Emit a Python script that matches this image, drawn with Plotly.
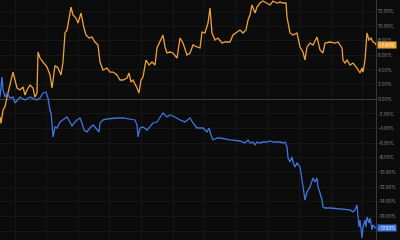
import plotly.graph_objects as go

# Orange series (cumulative return, %)
orange_t = [0, 1, 3, 5, 7, 10, 13, 15, 17, 20, 23, 25, 27, 30, 33, 35, 37, 38, 40, 43, 47, 50, 52, 55, 58, 61, 63, 65, 67, 70, 71, 73, 76, 78, 81, 84, 86, 89, 92, 95, 98, 100, 103, 107, 110, 113, 117, 120, 123, 127, 129, 131, 133, 137, 139, 141, 143, 146, 149, 152, 155, 157, 160, 163, 165, 167, 170, 173, 177, 180, 183, 187, 190, 193, 197, 200, 202, 205, 208, 210, 212, 215, 218, 222, 225, 230, 233, 237, 240, 243, 246, 248, 250, 252, 255, 257, 260, 263, 267, 270, 273, 277, 280, 283, 286, 287, 290, 293, 297, 300, 303, 305, 307, 310, 313, 317, 320, 323, 325, 330, 335, 338, 342, 343, 345, 347, 350, 353, 357, 360, 362, 363, 365, 366, 367, 369, 371, 373, 375, 376]
orange_v = [-2.4, -3.3, -1.5, -1.0, 0.31, 2.22, 3.72, 2.63, 1.54, 1.27, 1.68, 0.59, 1.27, 1.95, 1.54, 0.31, 0.86, 6.45, 5.63, 5.09, 4.41, 3.32, 1.54, 4.61, 4.27, 3.32, 5.09, 9.05, 9.46, 11.77, 12.59, 11.50, 11.09, 10.41, 11.77, 9.73, 8.77, 8.36, 8.50, 7.82, 7.41, 5.09, 4.00, 4.27, 3.72, 3.72, 3.32, 2.63, 2.63, 2.91, 3.59, 2.36, 2.63, 1.54, 0.86, 2.63, 3.04, 5.36, 4.68, 5.09, 4.68, 7.00, 7.82, 8.77, 7.14, 6.32, 6.45, 6.32, 5.63, 8.36, 7.68, 6.04, 6.32, 7.41, 7.14, 7.00, 9.18, 9.05, 10.41, 12.46, 9.05, 8.09, 8.36, 7.68, 7.82, 7.82, 8.77, 9.18, 9.45, 9.05, 9.45, 10.82, 11.50, 12.87, 11.77, 12.59, 13.14, 13.41, 13.14, 12.87, 13.41, 13.14, 13.27, 13.14, 13.14, 11.23, 9.05, 8.77, 9.05, 7.14, 6.45, 5.36, 7.14, 7.68, 7.41, 8.50, 6.73, 6.32, 7.68, 7.82, 7.68, 7.82, 7.00, 5.36, 4.95, 5.36, 4.68, 4.95, 4.27, 3.59, 4.27, 3.72, 5.36, 8.09, 9.05, 8.09, 8.36, 7.82, 7.68, 7.40]

# Blue series (cumulative return, %)
blue_t = [0, 2, 3, 5, 7, 10, 13, 15, 20, 25, 30, 33, 37, 40, 43, 46, 48, 50, 51, 52, 53, 55, 57, 60, 63, 65, 67, 70, 72, 75, 77, 80, 82, 84, 87, 90, 93, 95, 97, 99, 100, 103, 107, 113, 117, 123, 130, 135, 137, 138, 140, 143, 147, 150, 153, 157, 160, 163, 165, 167, 170, 175, 180, 185, 190, 193, 197, 200, 203, 207, 209, 211, 213, 217, 220, 230, 240, 245, 248, 250, 253, 255, 257, 260, 263, 267, 270, 273, 277, 280, 283, 285, 287, 288, 290, 292, 293, 295, 297, 300, 302, 303, 305, 307, 310, 313, 315, 317, 318, 320, 322, 323, 325, 330, 340, 347, 350, 353, 355, 357, 358, 359, 360, 361, 362, 363, 365, 366, 367, 369, 370, 371, 372, 373, 375, 376]
blue_v = [0.31, 3.04, 1.27, 0.31, 0.86, 0.18, 0.31, -0.50, 0.31, -0.10, 0.31, 0.18, -0.10, 0.18, 0.86, 1.00, 0.18, -1.46, -1.87, -3.25, -5.14, -3.78, -3.92, -3.10, -2.82, -2.55, -2.41, -3.10, -3.64, -3.10, -2.82, -2.55, -3.23, -4.19, -4.46, -3.92, -3.51, -3.78, -4.19, -4.46, -3.23, -2.82, -2.69, -2.55, -2.55, -2.55, -2.69, -2.82, -3.51, -5.14, -3.92, -3.78, -4.19, -3.78, -3.23, -3.10, -2.55, -1.87, -2.14, -2.41, -2.14, -2.41, -2.82, -3.10, -2.55, -3.23, -3.92, -3.92, -3.92, -4.46, -3.92, -4.87, -5.55, -5.28, -5.28, -5.55, -5.69, -5.96, -5.55, -5.96, -5.83, -6.23, -5.83, -5.96, -5.83, -5.83, -5.69, -5.83, -5.83, -5.83, -5.96, -5.83, -6.51, -8.01, -8.55, -7.87, -8.55, -9.24, -8.69, -9.24, -11.01, -11.96, -13.74, -12.65, -11.96, -10.74, -11.28, -10.74, -11.96, -12.78, -13.74, -14.69, -14.83, -14.83, -14.97, -14.97, -15.10, -15.37, -15.10, -14.42, -16.06, -17.42, -16.47, -17.83, -18.92, -17.42, -16.47, -17.42, -16.06, -16.88, -16.20, -16.88, -17.83, -17.15, -17.56, -17.63]

y_ticks = [12, 10, 8, 6, 4, 2, 0, -2, -4, -6, -8, -10, -12, -14, -16, -18]
# the -18% label is hidden behind the last-value badge in the reference
y_tick_labels = [f"{v:.2f}%" if v != -18 else "" for v in y_ticks]

ORANGE = "#eea03a"
BLUE = "#3f74dc"
BG = "#0b0b0b"

fig = go.Figure()
fig.add_trace(go.Scatter(x=orange_t, y=orange_v, mode="lines",
                         line=dict(color=ORANGE, width=1.3), hoverinfo="skip"))
fig.add_trace(go.Scatter(x=blue_t, y=blue_v, mode="lines",
                         line=dict(color=BLUE, width=1.3), hoverinfo="skip"))

fig.update_layout(
    width=400, height=240,
    margin=dict(l=0, r=24, t=0, b=0),
    paper_bgcolor=BG, plot_bgcolor=BG,
    showlegend=False,
    font=dict(family="Inter, Roboto, sans-serif"),
    xaxis=dict(range=[0, 376], showgrid=True, gridcolor="#161616", gridwidth=1,
               tick0=15, dtick=31.6, showticklabels=False, zeroline=False,
               ticks="", fixedrange=True),
    yaxis=dict(side="right", range=[-19.2, 13.55], tickvals=y_ticks,
               ticktext=y_tick_labels, showgrid=True, gridcolor="#161616",
               zeroline=True, zerolinecolor="#3a3a3a", zerolinewidth=1,
               showline=True, linecolor="#3a3a3a", linewidth=1,
               ticks="", tickfont=dict(size=4.5, color="#8a8a8a")),
)

last_o = orange_v[-1]
last_b = blue_v[-1]
fig.add_annotation(xref="paper", x=1, xanchor="left", yref="y", y=last_o,
                   text=f"+{last_o:.2f}%", showarrow=False, bgcolor=ORANGE,
                   font=dict(size=4.5, color="#fff3e0"), borderpad=0.6, xshift=1)
fig.add_annotation(xref="paper", x=1, xanchor="left", yref="y", y=last_b,
                   text=f"{last_b:.2f}%", showarrow=False, bgcolor=BLUE,
                   font=dict(size=4.5, color="#eef3ff"), borderpad=0.6, xshift=1)

fig.write_html("out.html")
